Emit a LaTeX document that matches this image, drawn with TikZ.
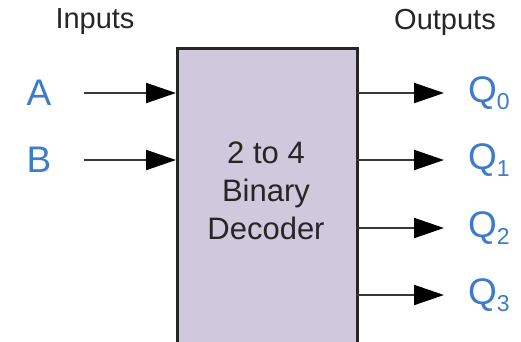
\documentclass[tikz,border=0pt]{standalone}
\usepackage{fontspec}
\setmainfont{Liberation Sans}
\usetikzlibrary{arrows.meta}
\definecolor{boxfill}{HTML}{D0C9DD}
\definecolor{lblue}{HTML}{3D7CC9}
\definecolor{wire}{HTML}{383838}
\tikzset{
  wirearrow/.style={draw=wire,line width=2pt,-{Triangle[length=30pt,width=20pt,color=black,fill=black]}},
  sig/.style={text=lblue,font=\fontsize{37}{37}\selectfont,inner sep=0pt},
  hdr/.style={text=black!85,font=\fontsize{29}{29}\selectfont,inner sep=0pt},
}
\newcommand{\qsub}[1]{Q\raisebox{-7pt}{\fontsize{23}{23}\selectfont #1}}
\begin{document}
\begin{tikzpicture}[x=1pt,y=-1pt]
\useasboundingbox (0,0) rectangle (521,341);
\node[draw=black!85,line width=3pt,fill=boxfill,minimum width=180pt,minimum height=300pt,anchor=north west,inner sep=0pt] (dec) at (176,47) {};
\node[align=center,font=\fontsize{31}{38}\selectfont,text=black!85] (lbl) at (266,191) {2 to 4\\Binary\\Decoder};
\node[hdr] (inp) at (95,22) {Inputs};
\node[hdr] (outp) at (445,22) {Outputs};
\node[sig] (A) at (39,93) {A};
\node[sig] (B) at (39,160) {B};
\coordinate (As) at (84,93);
\coordinate (Bs) at (84,160);
\draw[wirearrow] (As) -- (As -| dec.west);
\draw[wirearrow] (Bs) -- (Bs -| dec.west);
\foreach \i/\y in {0/93,1/160,2/228,3/295}{
  \coordinate (o\i) at (356,\y);
  \coordinate (e\i) at (444,\y);
  \draw[wirearrow] (o\i) -- (e\i);
  \node[sig,anchor=west] (q\i) at (468,\y) {\qsub{\i}};
}
\end{tikzpicture}
\end{document}
